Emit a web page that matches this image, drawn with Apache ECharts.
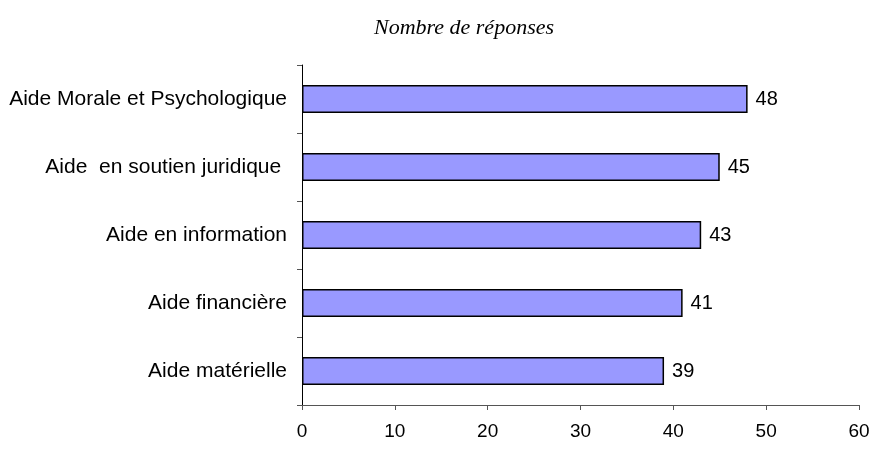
<!DOCTYPE html>
<html><head><meta charset="utf-8">
<script src="https://cdn.jsdelivr.net/npm/echarts@6/dist/echarts.min.js"></script>
<style>html,body{margin:0;padding:0;background:#fff}#c{width:882px;height:451px}</style>
</head><body><div id="c"></div>
<script>
const categories = ["Aide matérielle", "Aide financière", "Aide en information", "Aide  en soutien juridique ", "Aide Morale et Psychologique"];
const values = [39, 41, 43, 45, 48];
const xTicks = [0, 10, 20, 30, 40, 50, 60];
const titleText = "Nombre de réponses";

const chart = echarts.init(document.getElementById('c'), null, {renderer: 'canvas'});
chart.setOption({
  animation: false,
  backgroundColor: '#fff',
  title: {
    text: titleText, left: 459, top: 12, textAlign: 'center',
    textStyle: {fontFamily: 'Liberation Serif', fontStyle: 'italic', fontWeight: 'normal', fontSize: 22, color: '#000'}
  },
  grid: {left: 302, right: 23, top: 65, bottom: 46, containLabel: false},
  xAxis: {
    type: 'value', min: xTicks[0], max: xTicks[xTicks.length - 1], interval: 10,
    axisLine: {show: true, lineStyle: {color: '#555', width: 1}},
    axisTick: {show: true, length: 5, lineStyle: {color: '#555'}},
    splitLine: {show: false},
    axisLabel: {fontFamily: 'Liberation Sans', fontSize: 19, color: '#000', margin: 17}
  },
  yAxis: {
    type: 'category', data: categories,
    axisLine: {show: true, lineStyle: {color: '#000', width: 1}},
    axisTick: {show: true, length: 5, alignWithLabel: false, lineStyle: {color: '#555'}},
    axisLabel: {fontFamily: 'Liberation Sans', fontSize: 21, color: '#000', margin: 15}
  },
  series: [{
    type: 'bar', data: values, barWidth: 28,
    itemStyle: {color: '#9999FF', borderColor: '#000', borderWidth: 1.5},
    label: {show: true, position: 'right', distance: 8, fontFamily: 'Liberation Sans', fontSize: 20, color: '#000'}
  }]
});
</script></body></html>
